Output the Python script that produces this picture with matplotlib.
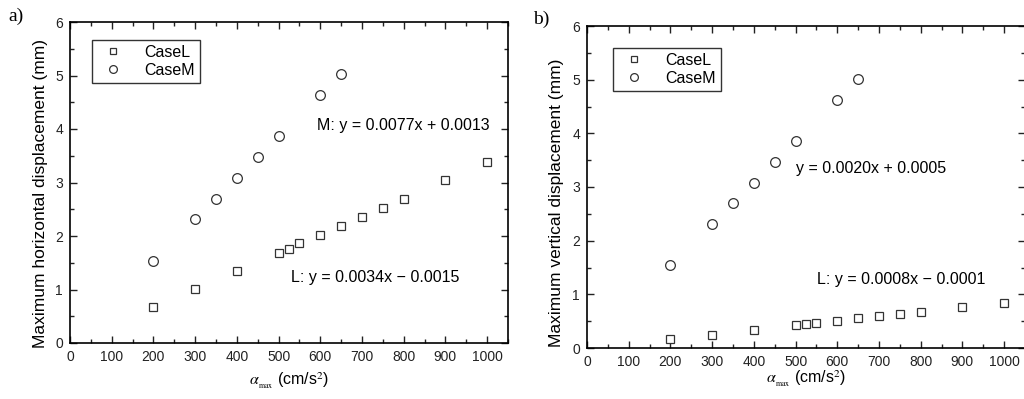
import matplotlib.pyplot as plt
import numpy as np
from matplotlib.ticker import MultipleLocator

plt.rcParams['font.family'] = ['Liberation Sans', 'DejaVu Sans']
plt.rcParams['mathtext.fontset'] = 'stix'

# peak acceleration (cm/s^2)
acc_L = [200, 300, 400, 500, 525, 550, 600, 650, 700, 750, 800, 900, 1000]
acc_M = [200, 300, 350, 400, 450, 500, 600, 650]

# maximum horizontal displacement (mm)
horiz_L = [0.68, 1.01, 1.35, 1.68, 1.76, 1.86, 2.01, 2.19, 2.36, 2.53, 2.70, 3.05, 3.38]
horiz_M = [1.54, 2.31, 2.70, 3.08, 3.47, 3.86, 4.63, 5.02]

# maximum vertical displacement (mm)
vert_L = [0.17, 0.25, 0.34, 0.42, 0.44, 0.46, 0.50, 0.55, 0.59, 0.63, 0.67, 0.76, 0.84]
vert_M = [1.54, 2.31, 2.70, 3.08, 3.47, 3.86, 4.63, 5.02]

W, H = 1024, 399
fig = plt.figure(figsize=(W / 100, H / 100), dpi=100)
ax_a = fig.add_axes([70 / W, 1 - 343 / H, 438 / W, 321 / H])
ax_b = fig.add_axes([587 / W, 1 - 348 / H, 438 / W, 322 / H])


def style_axes(ax, ylabel, ylab_xy, xpad):
    ax.set_xlim(0, 1050)
    ax.set_ylim(0, 6)
    ax.xaxis.set_major_locator(MultipleLocator(100))
    ax.xaxis.set_minor_locator(MultipleLocator(50))
    ax.yaxis.set_major_locator(MultipleLocator(1))
    ax.yaxis.set_minor_locator(MultipleLocator(0.5))
    ax.tick_params(which='both', direction='in', top=True, right=True, width=1.0,
                   labelsize=10, colors='#222222')
    ax.tick_params(which='major', length=5, pad=5)
    ax.tick_params(which='minor', length=3)
    for sp in ax.spines.values():
        sp.set_linewidth(1.2)
    ax.set_xlabel(r'$\alpha_{_{\rm max}}$ (cm/s$^2$)', fontsize=11.5, labelpad=xpad)
    ax.set_ylabel(ylabel, fontsize=12.5)
    ax.yaxis.set_label_coords(*ylab_xy)


def draw_points(ax, yl, ym, leg_xy):
    ax.plot(acc_L, yl, ls='none', marker='s', ms=6, mfc='white', mec='#333333',
            mew=0.9, label='CaseL')
    ax.plot(acc_M, ym, ls='none', marker='o', ms=7, mfc='white', mec='#333333',
            mew=0.9, label='CaseM')
    leg = ax.legend(loc='upper left', bbox_to_anchor=leg_xy, borderaxespad=0,
                    fontsize=11.5, frameon=True, fancybox=False, edgecolor='black',
                    handletextpad=1.0, borderpad=0.3, labelspacing=0.2,
                    markerscale=0.8)
    leg.get_frame().set_linewidth(1.0)


draw_points(ax_a, horiz_L, horiz_M, (0.05, 0.944))
style_axes(ax_a, 'Maximum horizontal displacement (mm)', (-0.05, 0.466), 5)
ax_a.text(592, 4.07, 'M: y = 0.0077x + 0.0013', fontsize=11.5, va='center')
ax_a.text(530, 1.23, 'L: y = 0.0034x \u2212 0.0015', fontsize=11.5, va='center')

draw_points(ax_b, vert_L, vert_M, (0.059, 0.932))
style_axes(ax_b, 'Maximum vertical displacement (mm)', (-0.0525, 0.45), 0)
ax_b.text(501, 3.35, 'y = 0.0020x + 0.0005', fontsize=11.5, va='center')
ax_b.text(551, 1.27, 'L: y = 0.0008x \u2212 0.0001', fontsize=11.5, va='center')

fig.text(8 / W, 1 - 16 / H, 'a)', fontsize=14, family='Liberation Serif', va='center')
fig.text(533 / W, 1 - 19 / H, 'b)', fontsize=14, family='Liberation Serif', va='center')

fig.savefig('out.png', dpi=100)
